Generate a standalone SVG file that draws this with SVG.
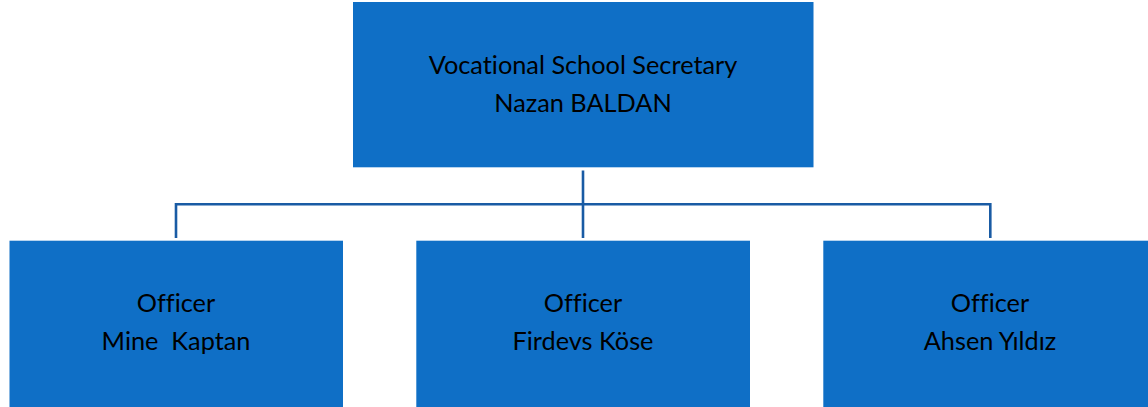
<svg xmlns="http://www.w3.org/2000/svg" width="1148" height="407" viewBox="0 0 1148 407">
<style>
.box{fill:#0f6fc6;}
.t{font-family:Lato,"Open Sans","Liberation Sans",sans-serif;font-size:25.3px;fill:#000;text-anchor:middle;font-variant-ligatures:none;}
.c{fill:none;stroke:#195ba4;stroke-width:2.6;}
</style>
<rect width="1148" height="407" fill="#fff"/>
<g id="connectors">
<path class="c" d="M583,170.5 V238"/>
<path class="c" d="M176,238 V204.3 H990.3 V238"/>
</g>
<g id="node-secretary">
<rect class="box" x="353" y="2" width="460.5" height="165.3"/>
<text class="t" x="583" y="74">Vocational School Secretary</text>
<text class="t" x="583" y="112">Nazan BALDAN</text>
</g>
<g id="node-mine">
<rect class="box" x="9.5" y="240.7" width="333.5" height="170"/>
<text class="t" x="176" y="312">Officer</text>
<text class="t" x="176" y="350" xml:space="preserve">Mine  Kaptan</text>
</g>
<g id="node-firdevs">
<rect class="box" x="416.3" y="240.7" width="333.7" height="170"/>
<text class="t" x="583" y="312">Officer</text>
<text class="t" x="583" y="350">Firdevs Köse</text>
</g>
<g id="node-ahsen">
<rect class="box" x="823.3" y="240.7" width="334" height="170"/>
<text class="t" x="990" y="312">Officer</text>
<text class="t" x="990" y="350">Ahsen Yıldız</text>
</g>
</svg>
